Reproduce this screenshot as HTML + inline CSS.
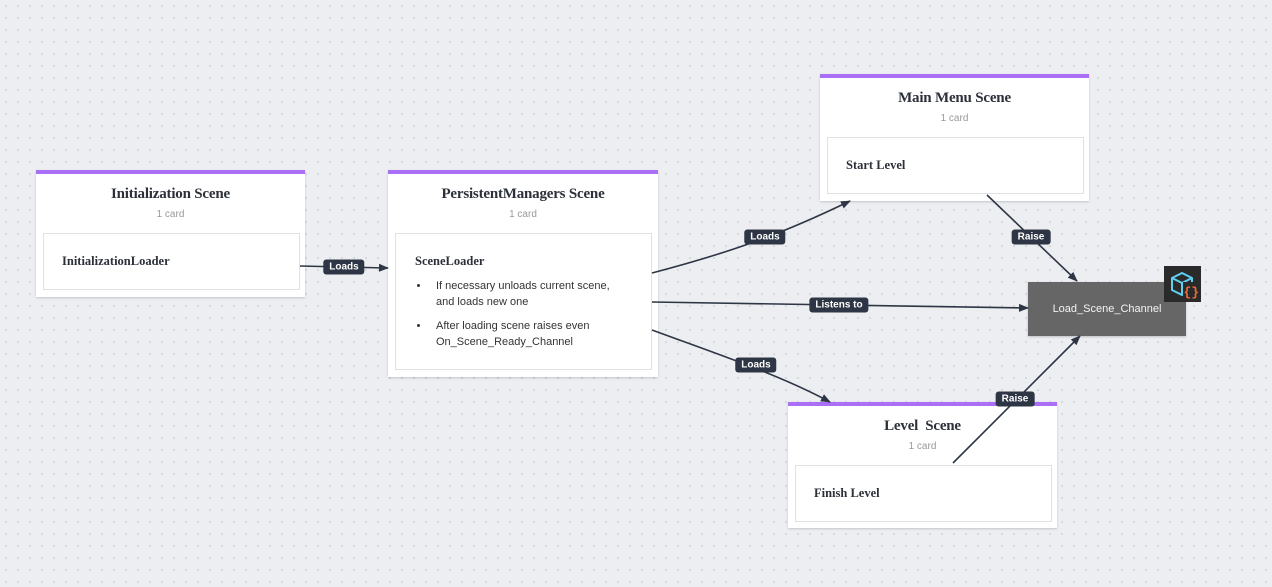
<!DOCTYPE html>
<html><head><meta charset="utf-8"><style>
body{margin:0;width:1272px;height:587px;overflow:hidden;background-color:#eceef1;background-image:radial-gradient(#d4d7dc 1px,transparent 1.2px);background-size:12px 12px;font-family:"Liberation Sans",sans-serif;position:relative}
.card{position:absolute;background:#fff;border-top:4px solid #a970f5;box-shadow:0 1px 2px rgba(0,0,0,.18)}
.t{position:absolute;left:0;right:0;text-align:center;font-family:"Liberation Serif",serif;font-weight:bold;font-size:15px;color:#2b3039;letter-spacing:-0.2px}
.s{position:absolute;left:0;right:0;text-align:center;font-size:10px;color:#999}
.in{position:absolute;border:1px solid #dfe1e4;background:#fff}
.n{position:absolute;font-family:"Liberation Serif",serif;font-weight:bold;font-size:12.5px;color:#2b3039}
.lb{position:absolute;background:#2e3645;color:#fff;font-size:10px;font-weight:bold;padding:1px 6px;border-radius:3px;transform:translate(-50%,-50%);line-height:13px}
ul{position:absolute;margin:0;padding-left:34px;font-size:11px;color:#333;line-height:16px}
li{margin-bottom:8px;padding-left:6px}
</style></head><body>

<div class="card" style="left:36px;top:170px;width:269px;height:123px">
<div class="t" style="top:12px">Initialization Scene</div><div class="s" style="top:35px">1 card</div>
<div class="in" style="left:7px;top:59px;width:255px;height:55px"><div class="n" style="left:18px;top:20px">InitializationLoader</div></div></div>

<div class="card" style="left:388px;top:170px;width:270px;height:203px">
<div class="t" style="top:12px">PersistentManagers Scene</div><div class="s" style="top:35px">1 card</div>
<div class="in" style="left:7px;top:59px;width:255px;height:135px"><div class="n" style="left:19px;top:20px">SceneLoader</div>
<ul style="left:0;top:44px;width:196px"><li>If necessary unloads current scene, and loads new one</li><li>After loading scene raises even On_Scene_Ready_Channel</li></ul></div></div>

<div class="card" style="left:820px;top:74px;width:269px;height:123px">
<div class="t" style="top:12px">Main Menu Scene</div><div class="s" style="top:35px">1 card</div>
<div class="in" style="left:7px;top:59px;width:255px;height:55px"><div class="n" style="left:18px;top:20px">Start Level</div></div></div>

<div class="card" style="left:788px;top:402px;width:269px;height:122px">
<div class="t" style="top:12px">Level&nbsp; Scene</div><div class="s" style="top:35px">1 card</div>
<div class="in" style="left:7px;top:59px;width:255px;height:55px"><div class="n" style="left:18px;top:20px">Finish Level</div></div></div>

<div style="position:absolute;left:1028px;top:282px;width:158px;height:54px;background:#666;color:#f4f4f4;font-size:11px;line-height:54px;text-align:center;box-shadow:0 1px 2px rgba(0,0,0,.2)">Load_Scene_Channel</div>
<div style="position:absolute;left:1164px;top:266px;width:37px;height:36px;background:#2a2a2a">
<svg width="37" height="36"><path d="M8,12 L18,7 L28,12 L28,24 L18,29 L8,24 Z M8,12 L18,17 L28,12 M18,17 L18,29" stroke="#5fd0f2" stroke-width="2" fill="none" stroke-linejoin="round"/>
<rect x="19" y="16" width="14" height="16" fill="#2a2a2a"/>
<text x="19.5" y="30" fill="#f26a3a" font-size="13" font-weight="bold" font-family="Liberation Mono,monospace">{}</text></svg></div>

<svg width="1272" height="587" style="position:absolute;left:0;top:0">
<defs><marker id="a" markerWidth="10" markerHeight="10" refX="9" refY="5" orient="auto" markerUnits="userSpaceOnUse"><path d="M0,1 L10,5 L0,9 z" fill="#2e3645"/></marker></defs>
<g stroke="#2e3645" stroke-width="1.6" fill="none" marker-end="url(#a)">
<path d="M300,266 L388,268"/>
<path d="M652,273 C740,250 790,230 850,201"/>
<path d="M652,302 L1028,308"/>
<path d="M652,330 C720,355 780,375 830,402"/>
<path d="M987,195 L1077,281"/>
<path d="M953,463 L1080,336"/>
</g></svg>

<div class="lb" style="left:344px;top:267px">Loads</div>
<div class="lb" style="left:765px;top:237px">Loads</div>
<div class="lb" style="left:839px;top:305px">Listens to</div>
<div class="lb" style="left:756px;top:365px">Loads</div>
<div class="lb" style="left:1031px;top:237px">Raise</div>
<div class="lb" style="left:1015px;top:399px">Raise</div>
</body></html>
